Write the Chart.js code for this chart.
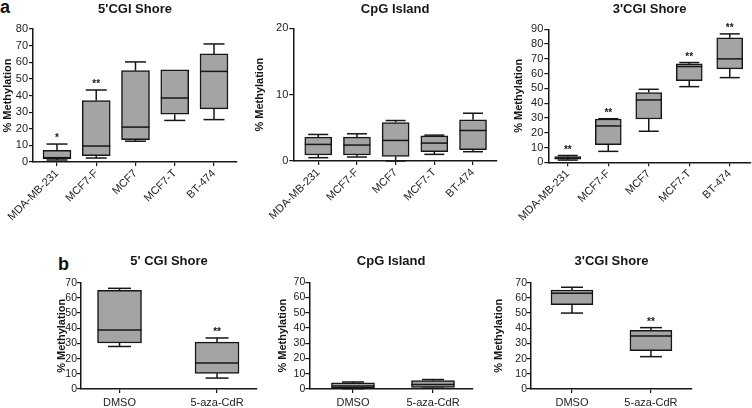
<!DOCTYPE html>
<html><head><meta charset="utf-8">
<script src="https://cdn.jsdelivr.net/npm/chart.js@4/dist/chart.umd.min.js"></script>
<style>
html,body{margin:0;padding:0;background:#fff;}
body{width:752px;height:408px;position:relative;overflow:hidden;font-family:"Liberation Sans",Arial,sans-serif;}
canvas{position:absolute;}
.lbl{position:absolute;font-weight:bold;font-size:18px;line-height:18px;color:#111;}
</style></head><body>
<div class="lbl" style="left:0px;top:-2px">a</div>
<div class="lbl" style="left:58px;top:255px">b</div>
<canvas id="a1"></canvas><canvas id="a2"></canvas><canvas id="a3"></canvas>
<canvas id="b1"></canvas><canvas id="b2"></canvas><canvas id="b3"></canvas>
<script>
// ---------- data ----------
const cellLines = ['MDA-MB-231', 'MCF7-F', 'MCF7', 'MCF7-T', 'BT-474'];
const treatments = ['DMSO', '5-aza-CdR'];
const yAxisTitle = '% Methylation';

// a1: 5'CGI Shore
const a1Title = "5'CGI Shore";
const a1Min = [1.2, 2.4, 12.5, 25.0, 25.5];
const a1Q1  = [1.8, 3.8, 13.4, 28.7, 32.0];
const a1Med = [2.6, 9.6, 21.0, 38.5, 54.5];
const a1Q3  = [7.0, 37.0, 55.0, 55.5, 65.0];
const a1Max = [10.8, 43.3, 60.2, 55.5, 71.0];
const a1Sig = ['*', '**', '', '', ''];

// a2: CpG Island
const a2Title = 'CpG Island';
const a2Min = [0.5, 0.6, 0.0, 1.0, 1.4];
const a2Q1  = [0.9, 0.9, 0.7, 1.4, 1.7];
const a2Med = [2.5, 2.4, 3.1, 2.7, 4.6];
const a2Q3  = [3.6, 3.6, 5.8, 3.8, 6.2];
const a2Max = [4.0, 4.1, 6.1, 3.9, 7.2];
const a2Sig = ['', '', '', '', ''];

// a3: 3'CGI Shore
const a3Title = "3'CGI Shore";
const a3Min = [1.5, 7.4, 21.0, 51.2, 57.3];
const a3Q1  = [2.2, 12.0, 29.3, 55.3, 63.2];
const a3Med = [3.0, 24.6, 42.2, 64.8, 70.0];
const a3Q3  = [3.9, 29.3, 47.2, 66.6, 84.2];
const a3Max = [4.6, 29.5, 49.4, 67.5, 86.9];
const a3Sig = ['**', '**', '', '**', '**'];

// b1: 5' CGI Shore
const b1Title = "5' CGI Shore";
const b1Min = [28.0, 7.2];
const b1Q1  = [30.3, 10.3];
const b1Med = [38.8, 17.1];
const b1Q3  = [65.0, 30.9];
const b1Max = [66.3, 33.6];
const b1Sig = ['', '**'];

// b2: CpG Island
const b2Title = 'CpG Island';
const b2Min = [0.2, 0.5];
const b2Q1  = [0.6, 1.0];
const b2Med = [2.0, 3.0];
const b2Q3  = [4.0, 5.6];
const b2Max = [4.6, 6.2];
const b2Sig = ['', ''];

// b3: 3'CGI Shore
const b3Title = "3'CGI Shore";
const b3Min = [50.0, 21.3];
const b3Q1  = [55.5, 25.2];
const b3Med = [63.0, 34.9];
const b3Q3  = [65.2, 38.6];
const b3Max = [67.0, 40.4];
const b3Sig = ['', '**'];

const yMaxA = [80, 20, 90];
const yMaxB = [70, 70, 70];

// ---------- style ----------
const FONT = '"Liberation Sans", Arial, sans-serif';
const INK = '#161616';
const TICK = '#222';
const BOX_FILL = '#a4a4a4';

function makeBoxPlugin(D, P) {
  return {
    id: 'boxWhiskers',
    afterDatasetsDraw(chart) {
      const ctx = chart.ctx, x = chart.scales.x, y = chart.scales.y;
      const half = P.boxW / 2, cap = P.capW / 2;
      ctx.save();
      ctx.strokeStyle = INK; ctx.lineWidth = 1.5; ctx.lineCap = 'butt';
      const line = (x0, y0, x1, y1) => { ctx.beginPath(); ctx.moveTo(x0, y0); ctx.lineTo(x1, y1); ctx.stroke(); };
      D.cats.forEach((c, i) => {
        const px = x.getPixelForValue(i + 1);
        const yMin = y.getPixelForValue(D.min[i]);
        const yQ1 = y.getPixelForValue(D.q1[i]);
        const yMed = y.getPixelForValue(D.med[i]);
        const yQ3 = y.getPixelForValue(D.q3[i]);
        const yMax = y.getPixelForValue(D.max[i]);
        line(px - half, yMed, px + half, yMed);
        if (D.max[i] > D.q3[i]) { line(px, yQ3, px, yMax); line(px - cap, yMax, px + cap, yMax); }
        if (D.min[i] < D.q1[i]) { line(px, yQ1, px, yMin); line(px - cap, yMin, px + cap, yMin); }
        if (D.sig[i]) {
          ctx.fillStyle = INK;
          ctx.font = 'bold 10px ' + FONT;
          ctx.textAlign = 'center'; ctx.textBaseline = 'alphabetic';
          ctx.fillText(D.sig[i], px, Math.min(yMax, yQ3) - 3);
        }
      });
      ctx.restore();
    }
  };
}

function makePanel(id, P, D) {
  const cv = document.getElementById(id);
  cv.width = P.cw; cv.height = P.ch;
  cv.style.left = P.cx + 'px'; cv.style.top = P.cy + 'px';
  const tp = P.titleY - P.cy - 7.8;
  const tb = (P.T - P.cy) - 15.6 - tp;
  new Chart(cv, {
    type: 'bar',
    data: {
      datasets: [{
        data: D.q1.map((q, i) => ({ x: i + 1, y: [q, D.q3[i]] })),
        backgroundColor: BOX_FILL, borderColor: INK, borderWidth: 1.5,
        borderSkipped: false, barThickness: P.boxW
      }]
    },
    options: {
      responsive: false, animation: false, devicePixelRatio: 1,
      layout: { padding: { left: 0, top: 0, right: P.cx + P.cw - P.R, bottom: 0 } },
      plugins: {
        legend: { display: false }, tooltip: { enabled: false },
        title: { display: true, text: D.title, fullSize: false, color: INK,
                 font: { family: FONT, size: 13, weight: 'bold', lineHeight: 1.2 },
                 padding: { top: tp, bottom: tb } }
      },
      scales: {
        x: {
          type: 'linear', min: P.xMin, max: P.xMax, offset: false,
          afterBuildTicks: s => { s.ticks = D.cats.map((c, i) => ({ value: i + 1 })); },
          afterFit: s => { s.height = P.cy + P.ch - P.B; s.paddingLeft = 0; s.paddingRight = 0; },
          ticks: { callback: (v, i) => D.cats[i], autoSkip: false, minRotation: P.rot, maxRotation: P.rot,
                   padding: P.xPad, color: TICK, font: { family: FONT, size: 11 } },
          grid: { offset: false, drawOnChartArea: false, drawTicks: true, tickLength: 4, color: INK, lineWidth: 1.2 },
          border: { display: true, color: INK, width: 1.5 }
        },
        y: {
          min: 0, max: D.yMax,
          ticks: { stepSize: 10, autoSkip: false, padding: P.yPad, color: TICK, font: { family: FONT, size: P.yFont } },
          afterFit: s => { s.width = P.L - P.cx; s.paddingTop = 0; s.paddingBottom = 0; },
          title: { display: true, text: yAxisTitle, color: INK,
                   font: { family: FONT, size: 11, weight: 'bold', lineHeight: 1.2 },
                   padding: { top: P.yTitleX - P.cx - 6.6, bottom: 0 } },
          grid: { drawOnChartArea: false, drawTicks: true, tickLength: 4, color: INK, lineWidth: 1.2 },
          border: { display: true, color: INK, width: 1.5 }
        }
      }
    },
    plugins: [makeBoxPlugin(D, P)]
  });
}

makePanel('a1',
  { cx: 0, cy: 0, cw: 250, ch: 235, L: 33, R: 237, T: 29, B: 162, titleY: 9, yTitleX: 8,
    xMin: 0.389, xMax: 5.586, boxW: 28, capW: 21, rot: 45, xPad: 1, yPad: 1, yFont: 11 },
  { title: a1Title, cats: cellLines, min: a1Min, q1: a1Q1, med: a1Med, q3: a1Q3, max: a1Max, sig: a1Sig, yMax: yMaxA[0] });
makePanel('a2',
  { cx: 250, cy: 0, cw: 250, ch: 235, L: 293.3, R: 497, T: 28.3, B: 161, titleY: 9.5, yTitleX: 260,
    xMin: 0.355, xMax: 5.62, boxW: 27, capW: 20, rot: 45, xPad: 1, yPad: 1, yFont: 11 },
  { title: a2Title, cats: cellLines, min: a2Min, q1: a2Q1, med: a2Med, q3: a2Q3, max: a2Max, sig: a2Sig, yMax: yMaxA[1] });
makePanel('a3',
  { cx: 500, cy: 0, cw: 252, ch: 235, L: 548.3, R: 751, T: 29.3, B: 162.3, titleY: 9, yTitleX: 519,
    xMin: 0.519, xMax: 5.525, boxW: 26, capW: 20, rot: 45, xPad: 1, yPad: 1, yFont: 11 },
  { title: a3Title, cats: cellLines, min: a3Min, q1: a3Q1, med: a3Med, q3: a3Q3, max: a3Max, sig: a3Sig, yMax: yMaxA[2] });
makePanel('b1',
  { cx: 0, cy: 245, cw: 262, ch: 163, L: 81, R: 257, T: 282.7, B: 389, titleY: 261, yTitleX: 61.5,
    xMin: 0.605, xMax: 2.41, boxW: 44, capW: 23, rot: 0, xPad: 3, yPad: 0, yFont: 10.5 },
  { title: b1Title, cats: treatments, min: b1Min, q1: b1Q1, med: b1Med, q3: b1Q3, max: b1Max, sig: b1Sig, yMax: yMaxB[0] });
makePanel('b2',
  { cx: 262, cy: 245, cw: 228, ch: 163, L: 309.3, R: 473, T: 282.3, B: 389, titleY: 261, yTitleX: 283,
    xMin: 0.454, xMax: 2.5, boxW: 43, capW: 22, rot: 0, xPad: 3, yPad: 0, yFont: 10.5 },
  { title: b2Title, cats: treatments, min: b2Min, q1: b2Q1, med: b2Med, q3: b2Q3, max: b2Max, sig: b2Sig, yMax: yMaxB[1] });
makePanel('b3',
  { cx: 490, cy: 245, cw: 262, ch: 163, L: 531, R: 692, T: 282.7, B: 389, titleY: 261, yTitleX: 498.5,
    xMin: 0.481, xMax: 2.52, boxW: 42, capW: 22, rot: 0, xPad: 3, yPad: 0, yFont: 10.5 },
  { title: b3Title, cats: treatments, min: b3Min, q1: b3Q1, med: b3Med, q3: b3Q3, max: b3Max, sig: b3Sig, yMax: yMaxB[2] });
</script>
</body></html>
